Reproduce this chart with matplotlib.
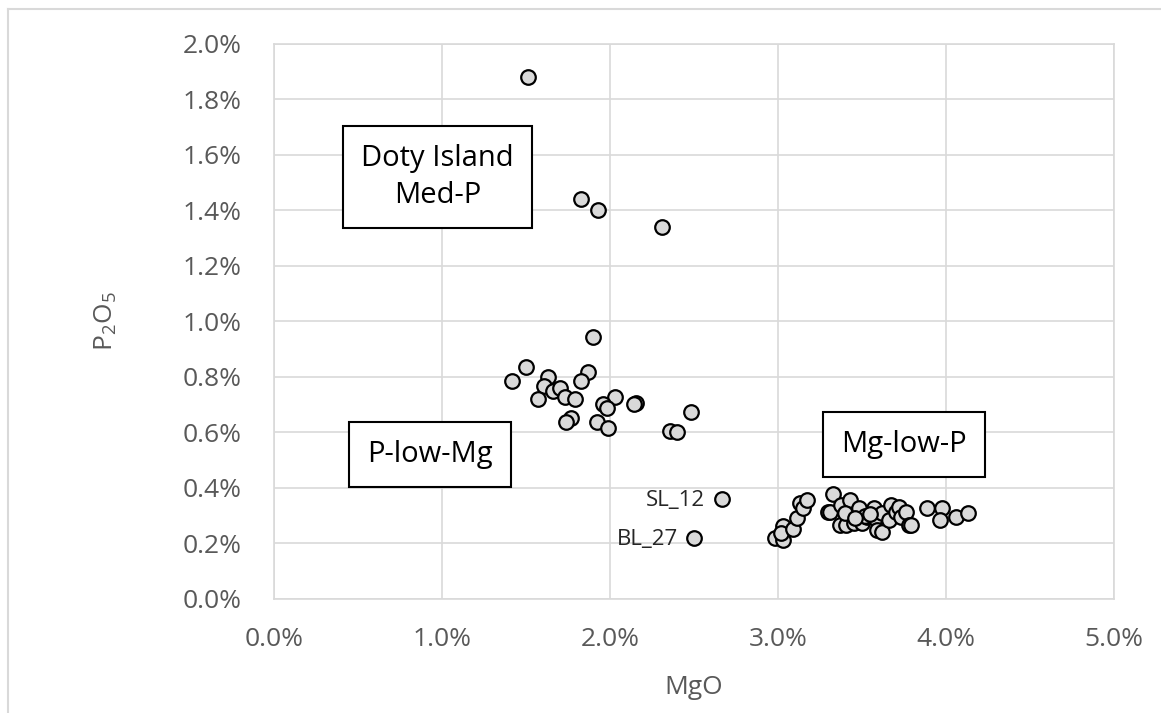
import matplotlib.pyplot as plt
from matplotlib.lines import Line2D
from matplotlib.ticker import FuncFormatter, MultipleLocator

plt.rcParams['font.family'] = ['Open Sans', 'DejaVu Sans']

# MgO (%) and P2O5 (%)
mgo = [
    1.51, 1.83, 1.93, 2.31,
    1.90, 1.50, 1.415, 1.63, 1.61, 1.66, 1.70, 1.57, 1.73, 1.79, 1.87, 1.825,
    2.03, 1.96, 1.98, 2.155, 2.14, 1.77, 1.74, 1.925, 1.99, 2.48, 2.36, 2.40,
    2.665, 2.50,
    2.98, 3.03, 3.03, 3.02, 3.09, 3.115, 3.13, 3.15, 3.17, 3.33, 3.30, 3.31,
    3.375, 3.37, 3.43, 3.405, 3.45, 3.40, 3.48, 3.50, 3.53, 3.57, 3.58, 3.59,
    3.62, 3.62, 3.66, 3.67, 3.70, 3.72, 3.73, 3.76, 3.78, 3.79, 3.885, 3.975,
    3.965, 4.06, 4.13, 3.52, 3.46, 3.55,
]
p2o5 = [
    1.88, 1.44, 1.40, 1.34,
    0.942, 0.836, 0.785, 0.800, 0.767, 0.749, 0.761, 0.721, 0.728, 0.721, 0.818, 0.785,
    0.728, 0.702, 0.687, 0.707, 0.702, 0.653, 0.638, 0.638, 0.614, 0.674, 0.605, 0.600,
    0.359, 0.219,
    0.221, 0.212, 0.263, 0.239, 0.251, 0.291, 0.345, 0.326, 0.356, 0.378, 0.314, 0.314,
    0.338, 0.266, 0.356, 0.266, 0.272, 0.309, 0.326, 0.272, 0.296, 0.326, 0.290, 0.248,
    0.242, 0.309, 0.284, 0.338, 0.314, 0.332, 0.296, 0.314, 0.266, 0.266, 0.326, 0.326,
    0.284, 0.296, 0.309, 0.300, 0.290, 0.305,
]

group_labels = ['Doty Island\nMed-P', 'P-low-Mg', 'Mg-low-P']
group_label_pos = [(0.975, 1.52), (0.93, 0.52), (3.75, 0.555)]

point_labels = ['SL_12', 'BL_27']
point_label_pos = [(2.39, 0.355), (2.225, 0.215)]

GRID = '#d9d9d9'
TICK = '#595959'

fig = plt.figure(figsize=(11.61, 7.13), dpi=100)
ax = fig.add_axes([274 / 1161, 114 / 713, 840 / 1161, 555.5 / 713])

ax.scatter(mgo, p2o5, s=110, c='#d9d9d9', edgecolors='black', linewidths=1.6, zorder=3)

ax.set_xlim(0, 5)
ax.set_ylim(0, 2.0)
ax.xaxis.set_major_locator(MultipleLocator(1))
ax.yaxis.set_major_locator(MultipleLocator(0.2))
ax.xaxis.set_major_formatter(FuncFormatter(lambda v, p: f'{v:.1f}%'))
ax.yaxis.set_major_formatter(FuncFormatter(lambda v, p: f'{v:.1f}%'))
ax.tick_params(length=0, labelsize=19, labelcolor=TICK)
ax.tick_params(axis='x', pad=20)
ax.tick_params(axis='y', pad=23)
ax.grid(True, color=GRID, linewidth=1.2, zorder=0)
ax.set_axisbelow(True)
for sp in ax.spines.values():
    sp.set_color(GRID)
    sp.set_linewidth(1.2)

ax.set_xlabel('MgO', fontsize=19, color=TICK, labelpad=17)
ax.set_ylabel('P$_\\mathregular{2}$O$_\\mathregular{5}$', fontsize=19, color=TICK, labelpad=46)

for txt, (x, y) in zip(group_labels, group_label_pos):
    ax.text(x, y, txt, fontsize=21, ha='center', va='center', zorder=4,
            linespacing=1.35,
            bbox=dict(boxstyle='square,pad=0.62', fc='white', ec='black', lw=1.5))

for txt, (x, y) in zip(point_labels, point_label_pos):
    ax.text(x, y, txt, fontsize=16, ha='center', va='center', color='#262626', zorder=4)

# outer chart frame
fig.add_artist(Line2D([8 / 1161, 8 / 1161], [0, 1 - 9 / 713], color=GRID, lw=1.5))
fig.add_artist(Line2D([8 / 1161, 1], [1 - 9 / 713, 1 - 9 / 713], color=GRID, lw=1.5))

fig.savefig('out.png', dpi=100)
